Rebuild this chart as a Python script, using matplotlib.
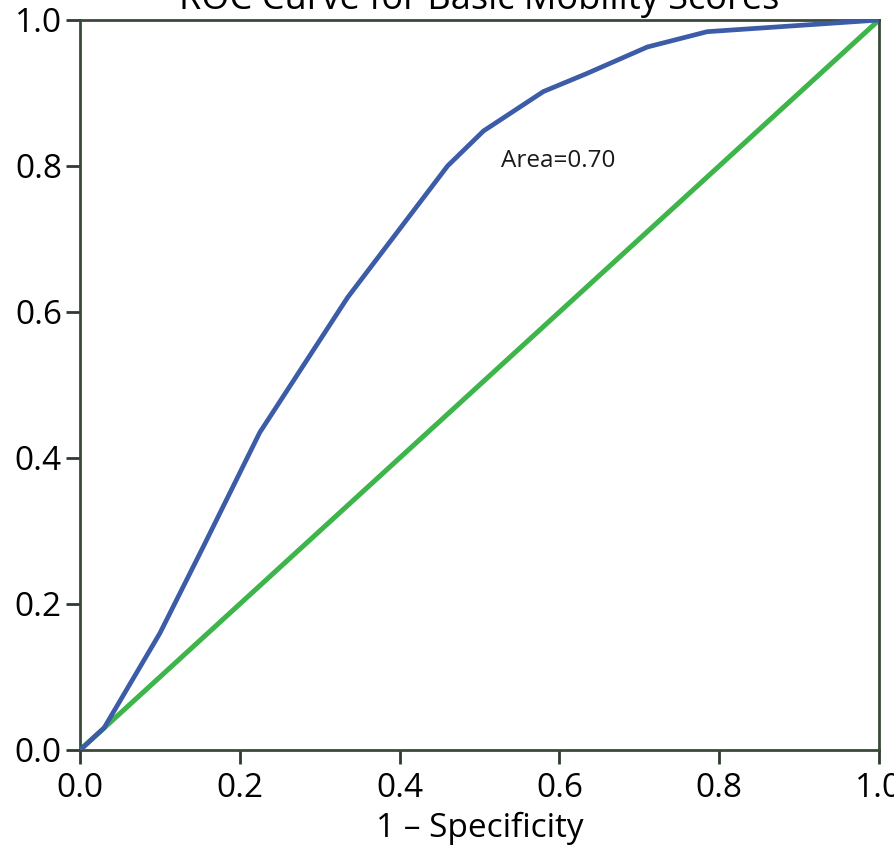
import matplotlib
matplotlib.use('Agg')
import matplotlib.pyplot as plt

# ROC curve knots
fpr = [0.0, 0.03, 0.10, 0.155, 0.225, 0.335, 0.46, 0.505, 0.58, 0.635, 0.71, 0.785, 1.0]
tpr = [0.0, 0.03, 0.16, 0.28, 0.435, 0.62, 0.80, 0.848, 0.902, 0.927, 0.963, 0.984, 1.0]
ref_x = [0.0, 1.0]
ref_y = [0.0, 1.0]
ticks = [0.0, 0.2, 0.4, 0.6, 0.8, 1.0]
tick_labels = ['0.0', '0.2', '0.4', '0.6', '0.8', '1.0']
area_text = 'Area=0.70'

plt.rcParams['font.family'] = ['Open Sans', 'DejaVu Sans']

fig = plt.figure(figsize=(8.95, 8.51), dpi=100)
ax = fig.add_axes([80 / 895, 101 / 851, 799 / 895, 730 / 851])

ax.plot(ref_x, ref_y, color='#3db54a', lw=3.6, solid_capstyle='round', zorder=2)
ax.plot(fpr, tpr, color='#3c5ca8', lw=3.4, solid_joinstyle='round', zorder=3)
ax.text(0.527, 0.799, area_text, fontsize=17.5, ha='left', va='baseline', color='#1a1a1a')

ax.set_xlim(0, 1)
ax.set_ylim(0, 1)
ax.set_xticks(ticks)
ax.set_xticklabels(tick_labels)
ax.set_yticks(ticks)
ax.set_yticklabels(tick_labels)
ax.tick_params(labelsize=24, length=10, width=2, color='#2e3a2e')
ax.tick_params(axis='x', pad=6)
ax.tick_params(axis='y', pad=3)
for side in ax.spines.values():
    side.set_color('#3a4a3a')
    side.set_linewidth(2)

ax.set_xlabel('1 – Specificity', fontsize=24, labelpad=5)
ax.set_title('ROC Curve for Basic Mobility Scores', fontsize=26, pad=8)

fig.savefig('out.png', dpi=100)
